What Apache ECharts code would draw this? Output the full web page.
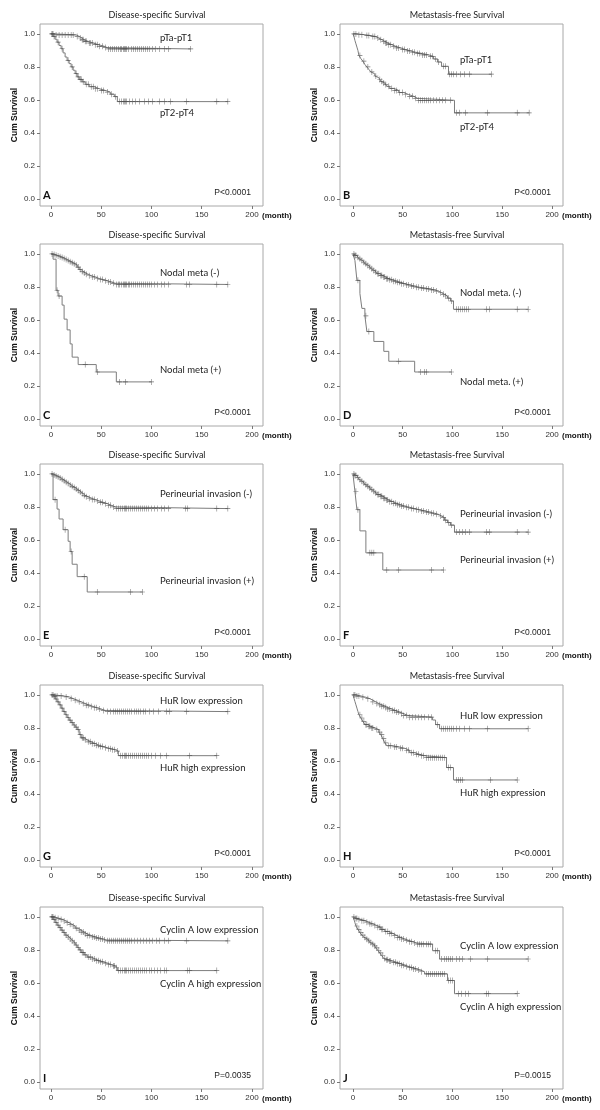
<!DOCTYPE html>
<html><head><meta charset="utf-8">
<script src="https://cdn.jsdelivr.net/npm/echarts@6/dist/echarts.min.js"></script>
<style>html,body{margin:0;padding:0;background:#fff}#c{width:600px;height:1110px}</style>
</head><body><div id="c"></div>
<script>
// ---------- tick labels / text ----------
const xTicks = [0, 50, 100, 150, 200];
const yTicks = [0, 0.2, 0.4, 0.6, 0.8, 1.0];
const panelLetters = ['A','B','C','D','E','F','G','H','I','J'];
const panelTitles = ['Disease-specific Survival','Metastasis-free Survival','Disease-specific Survival','Metastasis-free Survival','Disease-specific Survival','Metastasis-free Survival','Disease-specific Survival','Metastasis-free Survival','Disease-specific Survival','Metastasis-free Survival'];
const pValues = ['P<0.0001','P<0.0001','P<0.0001','P<0.0001','P<0.0001','P<0.0001','P<0.0001','P<0.0001','P=0.0035','P=0.0015'];
const topLabels = ['pTa-pT1','pTa-pT1','Nodal meta (-)','Nodal meta. (-)','Perineurial invasion (-)','Perineurial invasion (-)','HuR low expression','HuR low expression','Cyclin A low expression','Cyclin A low expression'];
const bottomLabels = ['pT2-pT4','pT2-pT4','Nodal meta (+)','Nodal meta. (+)','Perineurial invasion (+)','Perineurial invasion (+)','HuR high expression','HuR high expression','Cyclin A high expression','Cyclin A high expression'];

// ---------- data: event times (t), survival after event (s), censor times (c) ----------
const A1_t = [3,25,28,31,33,37,42,47,53,56];
const A1_s = [0.994,0.985,0.975,0.964,0.955,0.945,0.935,0.925,0.917,0.909];
const A1_c = [1,2,5,8,11,14,17,20,22,26,29,31,32,34,35,38,39,41,44,46,48,51,54,57,59,61,63,65,67,69,70,72,73,74,75,77,80,82,84,86,88,90,92,94,96,98,101,104,108,113,117,139];
const A2_t = [2,4,6,8,10,12,14,16,18,20,22,24,26,28,31,34,38,43,48,54,59,63,66];
const A2_s = [0.985,0.968,0.95,0.93,0.91,0.885,0.86,0.84,0.82,0.80,0.78,0.76,0.74,0.725,0.71,0.695,0.68,0.668,0.658,0.648,0.635,0.62,0.59];
const A2_c = [1,3,7,11,17,21,25,27,29,30,32,35,37,40,42,44,46,50,52,56,60,64,68,70,72,73,74,75,78,81,84,88,93,97,101,108,113,119,135,165,176];

const B1_t = [4,12,18,23,26,29,32,35,39,43,48,53,58,63,70,76,81,85,89,96];
const B1_s = [0.995,0.99,0.984,0.975,0.965,0.955,0.945,0.935,0.925,0.915,0.905,0.897,0.889,0.881,0.873,0.864,0.848,0.83,0.804,0.756];
const B1_c = [1,3,6,9,14,16,20,22,25,28,31,33,34,36,38,41,44,46,50,52,55,57,60,62,65,67,70,72,74,78,80,83,86,91,93,97,99,101,104,108,112,117,139];
const B2_t = [1,2,3,4,5,6,8,10,12,14,16,18,20,22,24,26,28,30,32,34,37,41,46,51,56,61,65,102];
const B2_s = [0.985,0.96,0.94,0.92,0.9,0.87,0.85,0.835,0.815,0.80,0.785,0.77,0.758,0.745,0.735,0.724,0.713,0.703,0.693,0.683,0.67,0.658,0.645,0.633,0.622,0.61,0.598,0.522];
const B2_c = [7,11,15,19,23,27,29,31,33,36,39,42,44,47,50,53,57,60,63,66,68,70,72,74,76,78,81,84,87,90,93,98,104,107,113,135,165,177];

const C1_t = [2,4,6,8,10,12,14,16,18,20,22,24,26,28,30,32,34,37,40,44,48,52,56,60,64];
const C1_s = [0.996,0.992,0.988,0.983,0.978,0.972,0.966,0.96,0.953,0.946,0.94,0.933,0.92,0.905,0.893,0.885,0.877,0.868,0.86,0.851,0.845,0.838,0.83,0.822,0.815];
const C1_c = [1,3,5,7,9,11,13,15,17,19,21,23,25,27,29,31,33,35,38,41,43,46,49,51,54,57,59,62,65,67,68,70,72,73,74,75,77,78,80,82,84,86,88,90,92,94,96,98,100,103,106,110,113,117,135,138,165,176];
const C2_t = [2,5,7,11,13,16,19,21,27,45,65];
const C2_s = [0.968,0.78,0.745,0.69,0.605,0.54,0.455,0.375,0.33,0.285,0.225];
const C2_c = [6,8,34,46,68,74,100];

const D1_t = [2,4,6,8,10,12,14,16,18,20,22,24,27,30,33,36,40,44,48,52,57,62,67,72,77,82,86,89,92,95,98,101];
const D1_s = [0.99,0.98,0.97,0.96,0.95,0.94,0.93,0.92,0.91,0.90,0.89,0.88,0.87,0.86,0.85,0.843,0.835,0.828,0.82,0.812,0.805,0.798,0.793,0.788,0.782,0.775,0.765,0.755,0.745,0.732,0.715,0.665];
const D1_c = [1,2,3,5,7,9,11,13,15,17,19,21,23,25,26,28,29,31,32,34,35,37,39,41,43,45,47,49,51,54,56,59,61,64,66,69,71,74,76,79,81,84,88,91,93,96,99,104,106,108,110,112,114,116,134,137,165,176];
const D2_t = [2,4,7,9,12,14,21,31,36,62];
const D2_s = [0.96,0.84,0.76,0.67,0.625,0.53,0.47,0.41,0.35,0.285];
const D2_c = [5,13,16,46,68,72,74,99];

const E1_t = [2,4,6,8,10,12,14,16,18,20,22,24,26,28,30,32,34,37,40,44,48,52,56,60,64];
const E1_s = [0.994,0.988,0.982,0.975,0.967,0.958,0.95,0.942,0.933,0.925,0.917,0.908,0.9,0.89,0.88,0.87,0.862,0.853,0.845,0.836,0.828,0.82,0.81,0.8,0.79];
const E1_c = [1,3,5,7,9,11,13,15,17,19,21,23,25,27,29,31,33,35,38,41,43,46,49,51,54,57,59,62,65,67,69,71,73,74,75,77,79,81,83,85,87,89,91,93,95,97,100,103,106,110,113,117,134,136,165,176];
const E2_t = [2,6,8,12,17,19,21,26,36];
const E2_s = [0.844,0.787,0.727,0.662,0.592,0.53,0.453,0.378,0.285];
const E2_c = [4,14,20,33,46,79,91];

const F1_t = [2,4,6,8,10,12,14,16,18,20,22,24,27,30,33,36,40,44,48,52,57,62,67,72,77,82,86,89,92,95,98,102];
const F1_s = [0.99,0.978,0.966,0.955,0.945,0.935,0.925,0.915,0.905,0.895,0.885,0.875,0.865,0.853,0.842,0.832,0.822,0.813,0.805,0.798,0.79,0.783,0.776,0.769,0.762,0.755,0.745,0.735,0.72,0.705,0.69,0.648];
const F1_c = [1,2,3,5,7,9,11,13,15,17,19,21,23,25,26,28,29,31,32,34,35,37,39,41,43,45,47,49,51,54,56,59,61,64,66,69,71,74,76,79,81,84,88,91,93,96,99,104,107,110,113,117,134,137,165,176];
const F2_t = [2,4,7,13,30];
const F2_s = [0.895,0.783,0.655,0.522,0.418];
const F2_c = [3,5,17,19,21,34,46,79,91];

const G1_t = [3,12,18,22,26,30,34,38,42,46,50,54];
const G1_s = [0.994,0.988,0.978,0.968,0.958,0.948,0.938,0.93,0.922,0.914,0.906,0.899];
const G1_c = [1,2,4,6,10,15,20,24,28,32,35,37,40,43,45,48,52,56,59,62,64,66,68,70,72,74,76,78,80,83,85,87,89,92,94,98,102,107,115,118,135,176];
const G2_t = [2,4,6,8,10,12,14,16,18,20,22,24,26,28,30,33,36,40,44,48,52,56,60,64,67];
const G2_s = [0.99,0.975,0.958,0.94,0.92,0.9,0.88,0.863,0.847,0.832,0.818,0.805,0.79,0.76,0.74,0.728,0.716,0.705,0.695,0.688,0.68,0.674,0.668,0.66,0.632];
const G2_c = [3,5,7,9,11,13,15,17,19,21,23,25,27,29,31,32,34,37,39,41,43,45,47,49,51,54,57,59,61,63,66,69,71,73,74,75,77,79,81,83,85,87,89,91,93,95,97,100,104,109,115,138,165];

const H1_t = [3,8,13,17,20,23,26,29,32,35,39,43,47,51,55,80,83,87];
const H1_s = [0.993,0.986,0.977,0.968,0.958,0.948,0.94,0.932,0.924,0.915,0.905,0.896,0.886,0.876,0.865,0.848,0.82,0.795];
const H1_c = [1,2,4,6,10,15,20,24,27,29,31,33,35,37,40,42,44,46,49,51,54,57,60,63,66,69,72,76,79,85,89,91,93,95,97,99,101,104,107,112,117,135,176];
const H2_t = [1,2,3,4,5,6,8,10,12,15,18,22,26,28,30,32,34,40,46,52,57,62,67,72,94,101];
const H2_s = [0.98,0.96,0.94,0.92,0.9,0.88,0.86,0.84,0.82,0.81,0.80,0.79,0.775,0.76,0.735,0.71,0.692,0.685,0.677,0.665,0.65,0.64,0.632,0.62,0.56,0.485];
const H2_c = [7,9,11,13,14,16,17,19,20,24,27,29,31,33,36,38,42,44,48,50,54,56,59,61,64,66,69,71,74,76,78,80,82,84,86,88,90,92,96,98,104,106,108,110,138,165];

const I1_t = [3,6,9,12,15,18,21,24,27,30,33,36,40,44,48,52,55];
const I1_s = [0.995,0.99,0.984,0.975,0.965,0.955,0.945,0.932,0.92,0.908,0.897,0.888,0.879,0.872,0.866,0.86,0.855];
const I1_c = [1,2,4,7,10,13,16,19,22,25,28,30,32,34,36,38,41,43,45,47,49,51,53,56,58,60,62,64,66,68,70,72,74,76,78,80,83,86,89,92,95,98,101,105,108,113,117,135,176];
const I2_t = [2,4,6,8,10,12,14,16,18,20,22,24,26,28,30,33,36,40,44,48,52,56,60,64,66];
const I2_s = [0.985,0.967,0.95,0.935,0.92,0.905,0.89,0.878,0.866,0.855,0.843,0.83,0.815,0.8,0.785,0.77,0.757,0.745,0.735,0.728,0.72,0.712,0.703,0.692,0.675];
const I2_c = [1,3,5,7,9,11,13,15,17,19,21,23,25,27,29,31,32,34,37,39,41,43,45,47,49,51,54,57,59,62,63,65,67,69,71,73,74,75,77,79,81,83,85,87,89,91,93,95,98,100,103,106,109,113,115,136,138,165];

const J1_t = [2,5,8,12,16,20,24,28,32,36,40,44,48,52,56,60,64,80,87];
const J1_s = [0.99,0.985,0.977,0.968,0.958,0.948,0.938,0.925,0.912,0.9,0.888,0.876,0.866,0.858,0.85,0.842,0.835,0.795,0.745];
const J1_c = [1,3,4,6,9,11,14,17,19,22,25,27,29,30,33,35,37,39,42,45,47,49,51,54,57,59,62,65,67,69,71,74,76,78,83,85,89,92,94,96,98,100,104,107,110,118,135,176];
const J2_t = [1,2,3,5,7,9,11,13,15,17,19,21,23,25,27,29,31,33,36,40,44,48,52,56,60,64,68,72,95,102];
const J2_s = [0.985,0.965,0.945,0.925,0.905,0.89,0.877,0.865,0.855,0.845,0.835,0.825,0.812,0.798,0.782,0.765,0.748,0.74,0.733,0.725,0.717,0.708,0.7,0.693,0.685,0.678,0.668,0.655,0.615,0.535];
const J2_c = [4,6,8,10,12,14,16,18,20,22,24,26,28,30,32,34,35,37,38,41,43,45,47,49,51,54,57,59,61,63,66,69,74,76,78,80,82,84,86,88,90,92,96,98,100,106,109,113,116,134,136,165];

const curves = [
  [[A1_t,A1_s,A1_c],[A2_t,A2_s,A2_c]],
  [[B1_t,B1_s,B1_c],[B2_t,B2_s,B2_c]],
  [[C1_t,C1_s,C1_c],[C2_t,C2_s,C2_c]],
  [[D1_t,D1_s,D1_c],[D2_t,D2_s,D2_c]],
  [[E1_t,E1_s,E1_c],[E2_t,E2_s,E2_c]],
  [[F1_t,F1_s,F1_c],[F2_t,F2_s,F2_c]],
  [[G1_t,G1_s,G1_c],[G2_t,G2_s,G2_c]],
  [[H1_t,H1_s,H1_c],[H2_t,H2_s,H2_c]],
  [[I1_t,I1_s,I1_c],[I2_t,I2_s,I2_c]],
  [[J1_t,J1_s,J1_c],[J2_t,J2_s,J2_c]]
];

// ---------- layout ----------
const ROW_TOP = [24, 244, 464, 685, 907];      // frame tops
const COL_LEFT = [40, 340];                     // frame lefts
const FRAME_W = 223, FRAME_H = 182;
const X_MIN = [-11, -13], X_MAX = 211;          // frame extent in months
const Y_MIN = -0.042, Y_MAX = 1.06;             // frame extent in survival
const LABEL_DY = [[14,89],[36,103],[29,126],[49,138],[30,117],[50,96],[16,83],[31,108],[23,77],[39,100]];
const LABEL_DX = 120;

function survAt(t, s, x) { let v = 1; for (let k = 0; k < t.length; k++) { if (t[k] <= x) v = s[k]; } return v; }
function stepData(t, s, c) {
  const d = [[0, 1]];
  for (let k = 0; k < t.length; k++) d.push([t[k], s[k]]);
  const end = Math.max(t[t.length - 1], ...c);
  d.push([end, s[s.length - 1]]);
  return d;
}
const CROSS = 'path://M4,0H5V4H9V5H5V9H4V5H0V4H4Z';
const TICK_FONT = 'Liberation Sans, Arial, sans-serif';
const LABEL_FONT = 'Lato, "Open Sans", sans-serif';

const grids = [], xAxes = [], yAxes = [], series = [], graphics = [];
for (let i = 0; i < 10; i++) {
  const row = Math.floor(i / 2), col = i % 2;
  const L = COL_LEFT[col], T = ROW_TOP[row];
  grids.push({ left: L, top: T, width: FRAME_W, height: FRAME_H, show: true, borderColor: '#a8a8a8', borderWidth: 1, backgroundColor: 'transparent' });
  xAxes.push({ gridIndex: i, type: 'value', min: X_MIN[col], max: X_MAX,
    axisLine: { show: false, onZero: false }, splitLine: { show: false },
    axisTick: { show: true, customValues: xTicks, length: 3, lineStyle: { color: '#777' } },
    axisLabel: { customValues: xTicks, fontSize: 8, color: '#333', margin: 5, fontFamily: TICK_FONT } });
  yAxes.push({ gridIndex: i, type: 'value', min: Y_MIN, max: Y_MAX,
    axisLine: { show: false, onZero: false }, splitLine: { show: false },
    axisTick: { show: true, customValues: yTicks, length: 3, lineStyle: { color: '#777' } },
    axisLabel: { customValues: yTicks, fontSize: 8, color: '#333', margin: 5, fontFamily: TICK_FONT, formatter: v => v.toFixed(1) },
    name: 'Cum Survival', nameLocation: 'middle', nameGap: 21, nameRotate: 90,
    nameTextStyle: { fontWeight: 'bold', fontSize: 8.5, color: '#111', fontFamily: TICK_FONT } });
  curves[i].forEach(([t, s, c]) => {
    series.push({ type: 'line', xAxisIndex: i, yAxisIndex: i, step: 'end', showSymbol: false, silent: true,
      lineStyle: { color: '#7d7d7d', width: 1 }, data: stepData(t, s, c), animation: false, z: 2 });
    series.push({ type: 'scatter', xAxisIndex: i, yAxisIndex: i, symbol: CROSS, symbolSize: [5, 6], silent: true,
      itemStyle: { color: '#505050' }, data: c.map(x => [x, survAt(t, s, x)]), animation: false, z: 3 });
  });
  graphics.push({ type: 'text', silent: true, style: { text: panelTitles[i], x: L + 117, y: T - 9, textAlign: 'center', textVerticalAlign: 'middle', fontSize: 9, fontFamily: LABEL_FONT, fill: '#222' } });
  graphics.push({ type: 'text', silent: true, style: { text: '(month)', x: L + FRAME_W - 1, y: T + FRAME_H + 10, textAlign: 'left', textVerticalAlign: 'middle', fontSize: 8, fontWeight: 'bold', fontFamily: TICK_FONT, fill: '#111' } });
  graphics.push({ type: 'text', silent: true, style: { text: panelLetters[i], x: L + 3, y: T + FRAME_H - 11, textAlign: 'left', textVerticalAlign: 'middle', fontSize: 11, fontWeight: 'bold', fontFamily: LABEL_FONT, fill: '#111' } });
  graphics.push({ type: 'text', silent: true, style: { text: pValues[i], x: L + FRAME_W - 12, y: T + FRAME_H - 13, textAlign: 'right', textVerticalAlign: 'middle', fontSize: 8.5, fontFamily: TICK_FONT, fill: '#222' } });
  graphics.push({ type: 'text', silent: true, style: { text: topLabels[i], x: L + LABEL_DX, y: T + LABEL_DY[i][0], textAlign: 'left', textVerticalAlign: 'middle', fontSize: 9.5, fontFamily: LABEL_FONT, fill: '#222' } });
  graphics.push({ type: 'text', silent: true, style: { text: bottomLabels[i], x: L + LABEL_DX, y: T + LABEL_DY[i][1], textAlign: 'left', textVerticalAlign: 'middle', fontSize: 9.5, fontFamily: LABEL_FONT, fill: '#222' } });
}

const chart = echarts.init(document.getElementById('c'), null, { renderer: 'canvas' });
chart.setOption({ animation: false, backgroundColor: '#fff', grid: grids, xAxis: xAxes, yAxis: yAxes, series: series, graphic: graphics });
</script></body></html>
